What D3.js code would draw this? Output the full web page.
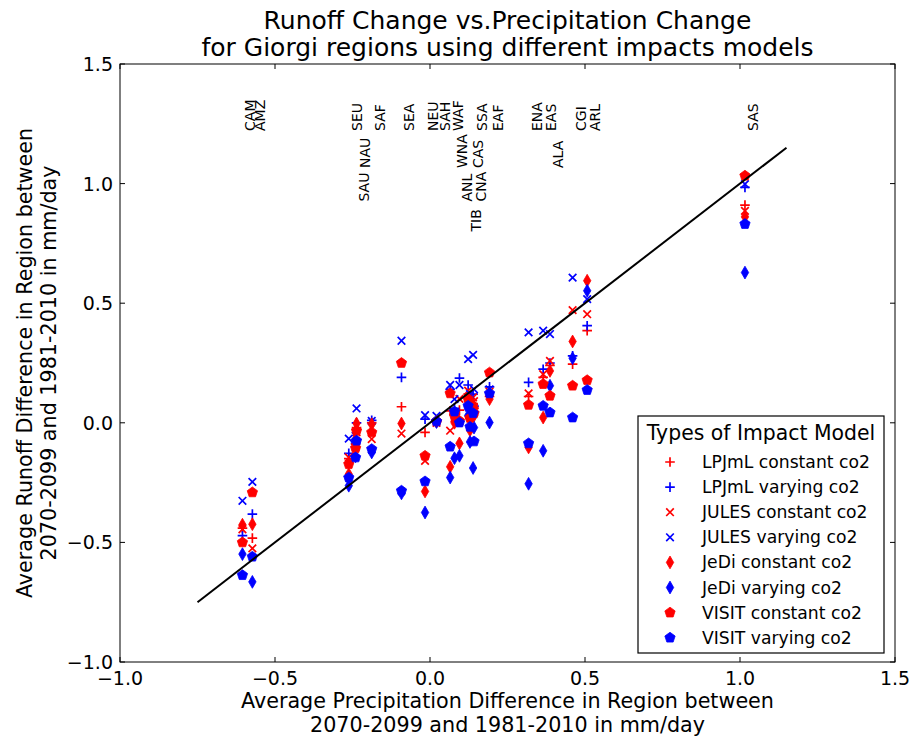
<!DOCTYPE html>
<html><head><meta charset="utf-8">
<script src="https://cdn.jsdelivr.net/npm/d3@7"></script>
<style>body{margin:0;background:#fff;}svg{display:block;font-family:"DejaVu Sans",sans-serif;}</style>
</head><body><svg id="c" width="909" height="736"></svg>
<script>
const regions = ["CAM","AMZ","SEU","SAU","NAU","SAF","SEA","NEU","SAH","WAF","WNA","ANL","TIB","CAS","CNA","SSA","EAF","ENA","EAS","ALA","CGI","ARL","SAS"];
const precip  = [-0.605,-0.573,-0.262,-0.240,-0.237,-0.188,-0.092,-0.016,0.021,0.065,0.079,0.095,0.123,0.129,0.139,0.142,0.192,0.318,0.365,0.387,0.460,0.507,1.016];
const labelRow = [0,0,0,2,1,0,0,0,0,0,1,2,3,1,2,0,0,0,0,1,0,0,0];
const rowY = [1.22,1.065,0.925,0.80];

const lpjmlConst = [-0.44,-0.482,-0.15,-0.09,-0.02,0.0,0.067,-0.04,0.005,0.05,0.04,0.053,0.12,0.02,0.08,0.06,0.11,0.11,0.19,0.24,0.245,0.385,0.910];
const lpjmlVary  = [-0.472,-0.382,-0.128,-0.085,0.0,0.01,0.190,0.015,0.01,0.14,0.06,0.187,0.158,0.05,0.12,0.07,0.150,0.169,0.224,0.25,0.28,0.406,0.984];
const julesConst = [-0.445,-0.525,-0.145,-0.10,-0.04,-0.068,-0.045,-0.159,0.0,-0.033,0.02,0.1,0.134,0.001,0.106,0.09,0.13,0.123,0.203,0.259,0.471,0.454,0.886];
const julesVary  = [-0.326,-0.247,-0.066,-0.055,0.060,0.008,0.343,0.032,0.029,0.158,0.099,0.158,0.266,0.12,0.284,0.14,0.14,0.378,0.385,0.371,0.607,0.517,0.998];
const jediConst  = [-0.426,-0.424,-0.215,-0.07,-0.003,-0.006,-0.003,-0.287,0.005,-0.184,0.0,-0.086,0.092,-0.031,0.071,0.03,0.099,-0.103,0.022,0.217,0.34,0.594,0.861];
const jediVary   = [-0.549,-0.665,-0.263,-0.14,-0.08,-0.124,-0.295,-0.375,0.003,-0.229,-0.148,-0.138,0.03,-0.08,-0.189,-0.02,0.001,-0.255,-0.117,0.155,0.27,0.552,0.628];
const visitConst = [-0.50,-0.291,-0.173,-0.106,-0.033,-0.04,0.250,-0.138,0.006,0.123,0.029,0.008,0.1,0.02,0.06,0.04,0.210,0.075,0.162,0.113,0.155,0.178,1.033];
const visitVary  = [-0.637,-0.56,-0.229,-0.145,-0.075,-0.110,-0.284,-0.245,0.006,-0.1,0.047,0.001,0.071,-0.017,0.04,-0.078,0.123,-0.086,0.071,0.043,0.022,0.137,0.831];

const seriesNames = ["LPJmL constant co2","LPJmL varying co2","JULES constant co2","JULES varying co2","JeDi constant co2","JeDi varying co2","VISIT constant co2","VISIT varying co2"];
const seriesValues = [lpjmlConst,lpjmlVary,julesConst,julesVary,jediConst,jediVary,visitConst,visitVary];
const seriesMarker = ["plus","plus","x","x","diamond","diamond","pentagon","pentagon"];
const seriesColor = ["#ff0000","#0000ff","#ff0000","#0000ff","#ff0000","#0000ff","#ff0000","#0000ff"];
const fitLine = [[-0.75,-0.75],[1.15,1.15]];
const xTicks = [-1.0,-0.5,0.0,0.5,1.0,1.5];
const yTicks = [-1.0,-0.5,0.0,0.5,1.0,1.5];

const svg = d3.select("#c");
const L=120,R=895,T=64,B=662;
const x = d3.scaleLinear().domain([-1.0,1.5]).range([L,R]);
const y = d3.scaleLinear().domain([-1.0,1.5]).range([B,T]);
const fmt = v => d3.format(".1f")(v).replace("-","\u2212");

function markerPath(type){
  if(type==="plus") return "M-4.8,0H4.8M0,-4.8V4.8";
  if(type==="x") return "M-3.8,-3.8L3.8,3.8M-3.8,3.8L3.8,-3.8";
  if(type==="diamond") return "M0,-6.4L3.7,0L0,6.4L-3.7,0Z";
  const r=5.4, pts=[];
  for(let i=0;i<5;i++){const a=-Math.PI/2+i*2*Math.PI/5;pts.push([r*Math.cos(a),r*Math.sin(a)]);}
  return "M"+pts.map(p=>p[0].toFixed(2)+","+p[1].toFixed(2)).join("L")+"Z";
}
function drawMarker(g,type,color,px,py){
  const p = g.append("path").attr("d",markerPath(type)).attr("transform",`translate(${px},${py})`);
  if(type==="plus"||type==="x") p.attr("fill","none").attr("stroke",color).attr("stroke-width",1.7);
  else p.attr("fill",color).attr("stroke",color).attr("stroke-width",0.8);
}

// points
const pg = svg.append("g");
seriesValues.forEach((vals,si)=>{
  vals.forEach((v,i)=>drawMarker(pg,seriesMarker[si],seriesColor[si],x(precip[i]),y(v)));
});

// fit line
svg.append("path").attr("d",d3.line().x(d=>x(d[0])).y(d=>y(d[1]))(fitLine))
  .attr("stroke","#000").attr("stroke-width",2).attr("fill","none");

// region labels
const lg = svg.append("g").attr("font-size",14).attr("fill","#000");
regions.forEach((r,i)=>{
  lg.append("text").attr("transform",`translate(${x(precip[i])+13},${y(rowY[labelRow[i]])}) rotate(-90)`).text(r);
});

// frame & ticks
svg.append("rect").attr("x",L).attr("y",T).attr("width",R-L).attr("height",B-T).attr("fill","none").attr("stroke","#000").attr("stroke-width",1);
const tk = svg.append("g").attr("stroke","#000").attr("stroke-width",1);
xTicks.forEach(t=>{
  tk.append("line").attr("x1",x(t)).attr("x2",x(t)).attr("y1",B).attr("y2",B-5);
  tk.append("line").attr("x1",x(t)).attr("x2",x(t)).attr("y1",T).attr("y2",T+5);
});
yTicks.forEach(t=>{
  tk.append("line").attr("y1",y(t)).attr("y2",y(t)).attr("x1",L).attr("x2",L+5);
  tk.append("line").attr("y1",y(t)).attr("y2",y(t)).attr("x1",R).attr("x2",R-5);
});
const tl = svg.append("g").attr("font-size",19).attr("fill","#000");
xTicks.forEach(t=>tl.append("text").attr("x",x(t)).attr("y",B+23).attr("text-anchor","middle").text(fmt(t)));
yTicks.forEach(t=>tl.append("text").attr("x",L-7).attr("y",y(t)+7).attr("text-anchor","end").text(fmt(t)));

// titles
const tt = svg.append("g").attr("font-size",25).attr("text-anchor","middle");
tt.append("text").attr("x",(L+R)/2).attr("y",29).text("Runoff Change vs.Precipitation Change");
tt.append("text").attr("x",(L+R)/2).attr("y",56).text("for Giorgi regions using different impacts models");
const al = svg.append("g").attr("font-size",20.7).attr("text-anchor","middle");
al.append("text").attr("x",(L+R)/2).attr("y",708).text("Average Precipitation Difference in Region between");
al.append("text").attr("x",(L+R)/2).attr("y",732).text("2070-2099 and 1981-2010 in mm/day");
al.append("text").attr("transform",`translate(32,${(T+B)/2}) rotate(-90)`).text("Average Runoff Difference in Region between");
al.append("text").attr("transform",`translate(56,${(T+B)/2}) rotate(-90)`).text("2070-2099 and 1981-2010 in mm/day");

// legend
const leg = svg.append("g");
leg.append("rect").attr("x",638).attr("y",416).attr("width",246).attr("height",237).attr("fill","#fff").attr("stroke","#000").attr("stroke-width",1.2);
leg.append("text").attr("x",761).attr("y",440).attr("text-anchor","middle").attr("font-size",20.4).text("Types of Impact Model");
seriesNames.forEach((n,i)=>{
  const yy = 462 + i*25.1;
  drawMarker(leg,seriesMarker[i],seriesColor[i],670,yy);
  leg.append("text").attr("x",702).attr("y",yy+6).attr("font-size",17.2).text(n);
});
</script></body></html>
